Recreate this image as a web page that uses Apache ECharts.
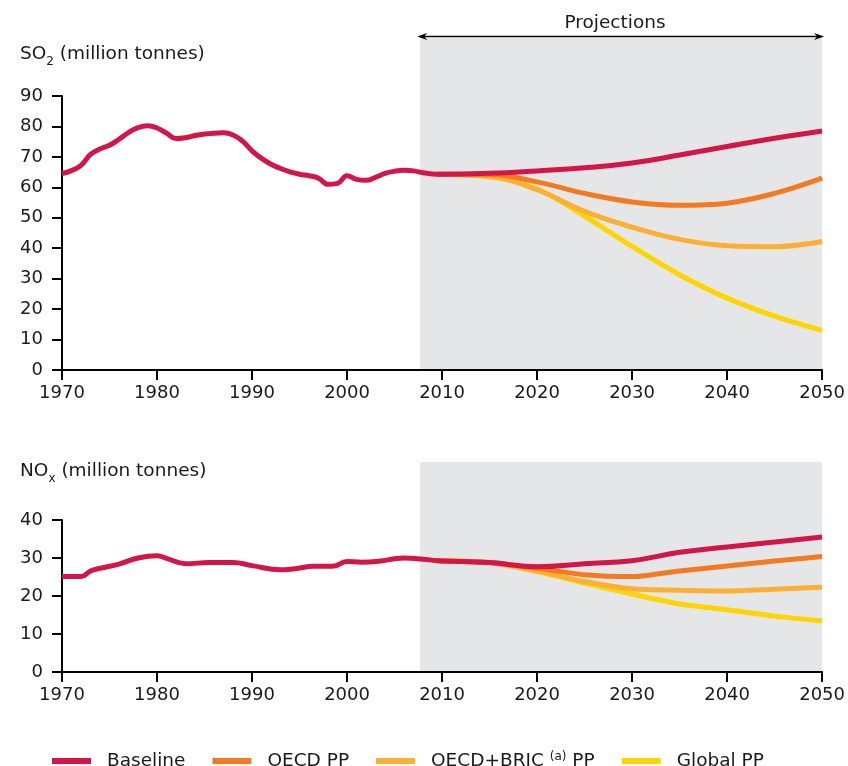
<!DOCTYPE html>
<html>
<head>
<meta charset="utf-8">
<script src="https://cdn.jsdelivr.net/npm/echarts@6/dist/echarts.min.js"></script>
<style>html,body{margin:0;padding:0;background:#fff;}#c{width:848px;height:766px;}</style>
</head>
<body>
<div id="c"></div>
<script>
// ---------- DATA ----------
const xTicks = [1970, 1980, 1990, 2000, 2010, 2020, 2030, 2040, 2050];
const projStart = 2007.7;

// SO2 historic baseline
const so2HistYears = [1970,1971,1972,1973,1974,1975,1976,1977,1978,1979,1980,1981,1982,1983,1984,1985,1986,1987,1988,1989,1990,1991,1992,1993,1994,1995,1996,1997,1998,1999,2000,2001,2002,2003,2004,2005,2006,2007,2008];
const so2HistValues = [64.5,65.5,67.2,70.8,72.6,73.8,75.8,78.0,79.6,80.2,79.5,77.8,76.0,76.3,77.0,77.5,77.8,77.9,77.2,75.2,72.0,69.5,67.6,66.2,65.1,64.3,63.8,63.0,61.0,61.3,63.8,62.6,62.3,63.3,64.6,65.3,65.6,65.4,64.8];
// SO2 projections
const so2ProjYears = [2009.5,2015,2020,2025,2030,2035,2040,2045,2050];
const so2Baseline  = [64.3,64.6,65.4,66.4,68.0,70.6,73.4,76.1,78.5];
const so2Oecd      = [64.3,64.2,61.8,58.0,55.2,54.1,54.8,58.0,63.0];
const so2OecdBric  = [64.3,63.6,59.2,52.1,46.9,42.9,40.8,40.5,42.2];
const so2Global    = [64.3,63.4,59.4,50.5,40.6,31.3,23.6,17.7,13.0];

// NOx historic baseline
const noxHistYears  = [1970,1972,1973,1974,1976,1978,1980,1981,1983,1985.5,1988,1990,1993,1994.5,1996.5,1998.5,2000,2001.5,2003.5,2005,2006,2008];
const noxHistValues = [25.1,25.1,26.6,27.3,28.4,30.0,30.6,29.9,28.5,28.8,28.8,28.0,26.9,27.2,27.8,27.8,29.1,28.9,29.2,29.8,30.0,29.7];
// NOx projections
const noxProjYears = [2009.5,2015,2020,2025,2030,2035,2040,2045,2050];
const noxBaseline  = [29.3,28.8,27.7,28.5,29.3,31.5,32.9,34.2,35.5];
const noxOecd      = [29.3,28.8,27.3,25.6,25.1,26.6,27.9,29.2,30.4];
const noxOecdBric  = [29.3,28.8,26.6,23.8,21.9,21.5,21.3,21.8,22.3];
const noxGlobal    = [29.3,28.8,26.4,23.4,20.5,17.9,16.4,14.7,13.4];

const seriesNames = ['Baseline', 'OECD PP', 'OECD+BRIC PP', 'Global PP'];
const seriesColors = ['#D31548', '#F47A22', '#FBAF35', '#FFD400'];

// ---------- BUILD ----------
function pairs(xs, ys) { return xs.map((x, i) => [x, ys[i]]); }
const so2Base = pairs(so2HistYears, so2HistValues).concat(pairs(so2ProjYears, so2Baseline));
const noxBase = pairs(noxHistYears, noxHistValues).concat(pairs(noxProjYears, noxBaseline));

const FONT = 'DejaVu Sans';
const TXT = '#1a1a1a';
const chart = echarts.init(document.getElementById('c'), null, {renderer: 'canvas'});

function xAxisCfg(gridIndex) {
  return {
    type: 'value', gridIndex, min: 1970, max: 2050, interval: 10, z: 3,
    axisLine: {show: true, onZero: false, lineStyle: {color: '#000', width: 2}},
    axisTick: {show: true, inside: false, length: 10, lineStyle: {color: '#000', width: 2}},
    axisLabel: {color: TXT, fontFamily: FONT, fontSize: 18, margin: 14, formatter: v => String(v)},
    splitLine: {show: false}
  };
}
function yAxisCfg(gridIndex, max) {
  return {
    type: 'value', gridIndex, min: 0, max, interval: 10, z: 3,
    axisLine: {show: true, lineStyle: {color: '#000', width: 2}},
    axisTick: {show: true, inside: false, length: 10, lineStyle: {color: '#000', width: 2}},
    axisLabel: {color: TXT, fontFamily: FONT, fontSize: 18, margin: 19},
    splitLine: {show: false}
  };
}
function line(name, idx, data, color, z, smooth) {
  return {
    name, type: 'line', xAxisIndex: idx, yAxisIndex: idx, data,
    showSymbol: false, symbol: 'none', smooth, z,
    lineStyle: {color, width: 5}, itemStyle: {color},
    emphasis: {disabled: true}, silent: true
  };
}

const series = [];
[[so2Global, so2OecdBric, so2Oecd, so2Base, so2ProjYears, 0.4], [noxGlobal, noxOecdBric, noxOecd, noxBase, noxProjYears, 0.25]].forEach((set, gi) => {
  const yrs = set[4], sm = set[5];
  series.push(line(seriesNames[3], gi, pairs(yrs, set[0]), seriesColors[3], 4, sm));
  series.push(line(seriesNames[2], gi, pairs(yrs, set[1]), seriesColors[2], 5, sm));
  series.push(line(seriesNames[1], gi, pairs(yrs, set[2]), seriesColors[1], 6, sm));
  series.push(line(seriesNames[0], gi, set[3], seriesColors[0], 7, 0.45));
});

const titleRich = {
  m: {fontFamily: FONT, fontSize: 18.5, fontWeight: 'normal', color: TXT, verticalAlign: 'bottom', padding: [0, 0, 4, 0]},
  s: {fontFamily: FONT, fontSize: 12, fontWeight: 'normal', color: TXT, verticalAlign: 'bottom', padding: [10, 0, 0, 0]}
};

chart.setOption({
  animation: false,
  backgroundColor: '#fff',
  title: [
    {text: '{m|SO}{s|2}{m| (million tonnes)}', left: 15, top: 40, textStyle: {fontWeight: 'normal', rich: titleRich}},
    {text: '{m|NO}{s|x}{m| (million tonnes)}', left: 15, top: 457, textStyle: {fontWeight: 'normal', rich: titleRich}}
  ],
  grid: [
    {left: 62, right: 25, top: 96, height: 274},
    {left: 62, right: 25, top: 520, height: 152}
  ],
  xAxis: [xAxisCfg(0), xAxisCfg(1)],
  yAxis: [yAxisCfg(0, 90), yAxisCfg(1, 40)],
  legend: {
    data: seriesNames,
    left: 47, top: 746,
    icon: 'rect', itemWidth: 39, itemHeight: 6, itemGap: 27,
    selectedMode: false,
    formatter: function (n) {
      if (n === 'OECD+BRIC PP') return '{p|OECD+BRIC }{sup|(a)}{t| PP}';
      return '{p|' + n + '}';
    },
    textStyle: {
      fontFamily: FONT, fontSize: 18.5, color: TXT,
      rich: {
        p: {fontFamily: FONT, fontSize: 18.5, color: TXT, padding: [0, 0, 0, 11]},
        t: {fontFamily: FONT, fontSize: 18.5, color: TXT},
        sup: {fontFamily: FONT, fontSize: 12, color: TXT, verticalAlign: 'top', padding: [0, 0, 8, 0]}
      }
    }
  },
  series
});

// shaded projection area, arrow and label (positioned through the axes)
const x0 = chart.convertToPixel({xAxisIndex: 0}, projStart);
const x1 = chart.convertToPixel({xAxisIndex: 0}, 2050);
const yTopAxis = chart.convertToPixel({yAxisIndex: 0}, 0);
const yBotAxis = chart.convertToPixel({yAxisIndex: 1}, 0);
const shadeTopA = 38, shadeTopB = 462, arrowY = 36.5;
const ax0 = x0 - 3, ax1 = x1 + 2;
chart.setOption({
  graphic: [
    {type: 'rect', z: 1, silent: true, shape: {x: x0, y: shadeTopA, width: x1 - x0, height: yTopAxis - shadeTopA}, style: {fill: '#E5E6E8'}},
    {type: 'rect', z: 1, silent: true, shape: {x: x0, y: shadeTopB, width: x1 - x0, height: yBotAxis - shadeTopB}, style: {fill: '#E5E6E8'}},
    {type: 'line', z: 10, silent: true, shape: {x1: ax0 + 6, y1: arrowY, x2: ax1 - 6, y2: arrowY}, style: {stroke: '#000', lineWidth: 1.5}},
    {type: 'polygon', z: 10, silent: true, shape: {points: [[ax0, arrowY], [ax0 + 10, arrowY - 3.5], [ax0 + 7, arrowY], [ax0 + 10, arrowY + 3.5]]}, style: {fill: '#000'}},
    {type: 'polygon', z: 10, silent: true, shape: {points: [[ax1, arrowY], [ax1 - 10, arrowY - 3.5], [ax1 - 7, arrowY], [ax1 - 10, arrowY + 3.5]]}, style: {fill: '#000'}},
    {type: 'text', z: 10, silent: true, x: 615, y: 23, style: {text: 'Projections', fontFamily: FONT, fontSize: 18.5, fill: TXT, align: 'center', verticalAlign: 'middle'}}
  ]
});
</script>
</body>
</html>
